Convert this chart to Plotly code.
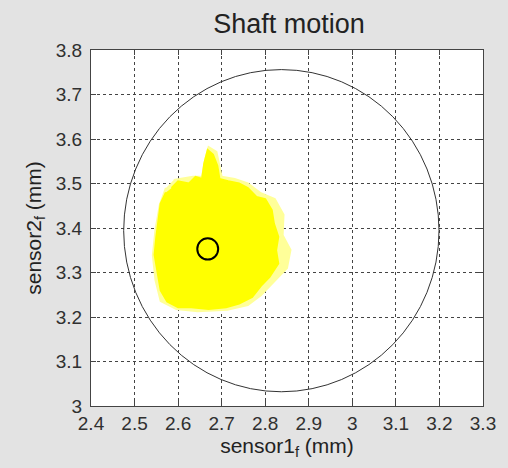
import plotly.graph_objects as go

# Axis ticks
x_ticks = [2.4, 2.5, 2.6, 2.7, 2.8, 2.9, 3.0, 3.1, 3.2, 3.3]
x_tick_text = ["2.4", "2.5", "2.6", "2.7", "2.8", "2.9", "3", "3.1", "3.2", "3.3"]
y_ticks = [3.0, 3.1, 3.2, 3.3, 3.4, 3.5, 3.6, 3.7, 3.8]
y_tick_text = ["3", "3.1", "3.2", "3.3", "3.4", "3.5", "3.6", "3.7", "3.8"]

# Outline of the sparse fringe of the shaft orbit cloud
halo_x = [2.590, 2.634, 2.655, 2.662, 2.670, 2.688, 2.700, 2.730, 2.760, 2.790,
          2.822, 2.842, 2.840, 2.858, 2.850, 2.820, 2.790, 2.760, 2.713, 2.645,
          2.596, 2.560, 2.548, 2.542, 2.548, 2.558, 2.572]
halo_y = [3.508, 3.515, 3.515, 3.553, 3.582, 3.571, 3.515, 3.510, 3.500, 3.478,
          3.465, 3.430, 3.384, 3.351, 3.310, 3.280, 3.249, 3.227, 3.216, 3.213,
          3.218, 3.236, 3.283, 3.339, 3.396, 3.452, 3.490]

# Outline of the dense core of the orbit cloud
core_x = [2.585, 2.600, 2.625, 2.640, 2.655, 2.660, 2.668, 2.680, 2.690, 2.695,
          2.715, 2.740, 2.760, 2.780, 2.800, 2.815, 2.820, 2.830, 2.825, 2.830,
          2.810, 2.790, 2.770, 2.740, 2.710, 2.670, 2.630, 2.600, 2.575, 2.560,
          2.553, 2.546, 2.550, 2.555, 2.560, 2.572]
core_y = [3.490, 3.505, 3.500, 3.515, 3.510, 3.545, 3.575, 3.565, 3.540, 3.510,
          3.505, 3.500, 3.490, 3.470, 3.465, 3.440, 3.410, 3.380, 3.350, 3.320,
          3.290, 3.270, 3.245, 3.230, 3.222, 3.218, 3.222, 3.222, 3.235, 3.260,
          3.300, 3.340, 3.380, 3.420, 3.455, 3.480]

# Clearance circle and mean-position circle (center x, center y, radius)
clearance = (2.837, 3.394, 0.362)
mean_pos = (2.668, 3.353, 0.024)

FONT = "Liberation Sans, Arial"

fig = go.Figure()
fig.add_trace(go.Scatter(x=halo_x, y=halo_y, mode="lines", fill="toself",
                         fillcolor="#ffff99", line=dict(color="#ffff99", width=2),
                         hoverinfo="skip", showlegend=False))
fig.add_trace(go.Scatter(x=core_x, y=core_y, mode="lines", fill="toself",
                         fillcolor="#ffff00", line=dict(color="#ffff00", width=2),
                         hoverinfo="skip", showlegend=False))

for (cx, cy, r), w, col in [(clearance, 1, "#333333"), (mean_pos, 2, "#000000")]:
    fig.add_shape(type="circle", xref="x", yref="y",
                  x0=cx - r, x1=cx + r, y0=cy - r, y1=cy + r,
                  line=dict(color=col, width=w))

axis_common = dict(
    showgrid=True, gridcolor="#444444", griddash="3px,3px", gridwidth=1,
    showline=True, linecolor="#444444", linewidth=1, mirror="ticks",
    ticks="inside", ticklen=5, tickcolor="#444444",
    zeroline=False, tickfont=dict(family=FONT, size=19, color="#303030"),
)

fig.update_xaxes(range=[2.4, 3.3], tickvals=x_ticks, ticktext=x_tick_text,
                 ticklabelstandoff=0,
                 title=dict(text="sensor1<sub>f</sub> (mm)", standoff=5,
                            font=dict(family=FONT, size=21, color="#222222")),
                 **axis_common)
fig.update_yaxes(range=[3.0, 3.8], tickvals=y_ticks, ticktext=y_tick_text,
                 ticklabelstandoff=4,
                 title=dict(text="sensor2<sub>f</sub> (mm)", standoff=8,
                            font=dict(family=FONT, size=21, color="#222222")),
                 **axis_common)

fig.update_layout(
    width=508, height=468,
    margin=dict(l=91, r=17, t=50, b=62),
    paper_bgcolor="#e3e3e3", plot_bgcolor="#ffffff",
    title=dict(text="Shaft motion", x=0.569, xanchor="center", y=0.950, yanchor="middle",
               font=dict(family=FONT, size=27, color="#222222")),
    showlegend=False,
)

fig.write_html("out.html")
